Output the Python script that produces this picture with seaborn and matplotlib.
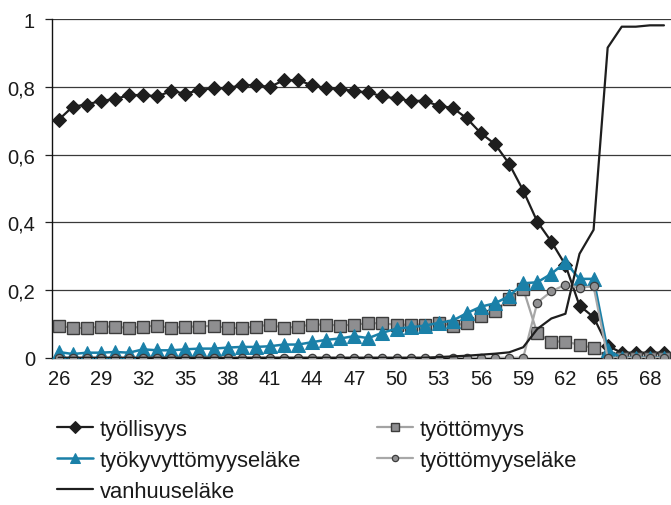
import numpy as np
import matplotlib
matplotlib.use("Agg")
import matplotlib.pyplot as plt
import seaborn as sns
import pandas as pd

ages = list(range(26, 70))

tyollisyys = [0.703, 0.742, 0.748, 0.759, 0.764, 0.776, 0.776, 0.772, 0.788, 0.780,
              0.791, 0.796, 0.797, 0.805, 0.805, 0.800, 0.820, 0.820, 0.805, 0.797,
              0.795, 0.787, 0.784, 0.772, 0.766, 0.759, 0.759, 0.744, 0.738, 0.707,
              0.663, 0.631, 0.573, 0.494, 0.402, 0.343, 0.274, 0.154, 0.120, 0.035,
              0.015, 0.015, 0.015, 0.015]
tyottomyys = [0.095, 0.088, 0.088, 0.092, 0.092, 0.088, 0.092, 0.095, 0.088, 0.092,
              0.092, 0.095, 0.088, 0.088, 0.092, 0.098, 0.088, 0.092, 0.098, 0.098,
              0.095, 0.098, 0.102, 0.102, 0.097, 0.098, 0.098, 0.102, 0.095, 0.102,
              0.122, 0.137, 0.174, 0.204, 0.072, 0.048, 0.048, 0.038, 0.029, 0.0,
              0.0, 0.0, 0.0, 0.0]
tyokyvyttomyyselake = [0.017, 0.011, 0.015, 0.015, 0.017, 0.015, 0.025, 0.022, 0.022, 0.025,
                       0.027, 0.027, 0.030, 0.032, 0.032, 0.034, 0.039, 0.039, 0.046, 0.053,
                       0.057, 0.064, 0.058, 0.074, 0.086, 0.090, 0.095, 0.103, 0.110, 0.132,
                       0.151, 0.161, 0.182, 0.220, 0.223, 0.248, 0.282, 0.233, 0.233, 0.022,
                       0.0, 0.0, 0.0, 0.0]
tyottomyyselake = [0.0] * 34 + [0.163, 0.196, 0.216, 0.207, 0.211, 0.0, 0.0, 0.0, 0.0, 0.0]
vanhuuselake = [0.0] * 27 + [0.002, 0.004, 0.006, 0.009, 0.012, 0.016, 0.031, 0.085,
                             0.116, 0.130, 0.307, 0.378, 0.916, 0.978, 0.978, 0.982, 0.982]

tick_labels = [str(a) for a in ages[::3]]

sns.set_style("white")
plt.rcParams['font.family'] = ['Liberation Sans', 'DejaVu Sans']
plt.rcParams['text.color'] = '#1a1a1a'

fig = plt.figure(figsize=(6.71, 5.06), dpi=100)
ax = fig.add_axes([0.077, 0.291, 0.923, 0.669])

pos = np.arange(len(ages))
df = pd.DataFrame({"pos": pos, "tyollisyys": tyollisyys, "tyottomyys": tyottomyys,
                   "tyokyvyttomyyselake": tyokyvyttomyyselake,
                   "tyottomyyselake": tyottomyyselake, "vanhuuselake": vanhuuselake})

blue = "#1a80a8"
sns.lineplot(data=df, x="pos", y="tyollisyys", ax=ax, color="#1e1e1e", lw=1.6,
             marker="D", markersize=7.5, markeredgecolor="#1e1e1e", label="työllisyys", zorder=3)
sns.lineplot(data=df, x="pos", y="tyottomyys", ax=ax, color="#a3a3a3", lw=1.6,
             marker="s", markersize=8.5, markerfacecolor="#8e8e90", markeredgecolor="#3c3c3c",
             markeredgewidth=1.0, label="työttömyys", zorder=4)
sns.lineplot(data=df, x="pos", y="tyokyvyttomyyselake", ax=ax, color=blue, lw=1.8,
             marker="^", markersize=9.5, markeredgecolor=blue, label="työkyvyttömyyseläke", zorder=5)
sns.lineplot(data=df, x="pos", y="tyottomyyselake", ax=ax, color="#a8a8a8", lw=1.6,
             marker="o", markersize=6, markerfacecolor="#909092", markeredgecolor="#3c3c3c",
             markeredgewidth=0.9, label="työttömyyseläke", zorder=6)
sns.lineplot(data=df, x="pos", y="vanhuuselake", ax=ax, color="#1e1e1e", lw=1.6,
             label="vanhuuseläke", zorder=7)

ax.set_xlim(-0.5, len(ages) - 0.5)
ax.set_ylim(0, 1)
ax.set_yticks([0, 0.2, 0.4, 0.6, 0.8, 1.0])
ax.set_yticklabels(["0", "0,2", "0,4", "0,6", "0,8", "1"])
ax.set_xticks(pos[::3])
ax.set_xticklabels(tick_labels)
ax.set_xticks(np.arange(-0.5, len(ages), 1.0), minor=True)
ax.tick_params(axis="x", which="major", length=0, pad=8, labelsize=14.5, colors="#1a1a1a")
ax.tick_params(axis="x", which="minor", length=5, width=0.9, color="#222222", direction="out")
ax.tick_params(axis="y", length=5, width=0.9, color="#222222", labelsize=14.5, pad=7,
               colors="#1a1a1a")
ax.tick_params(axis="both", bottom=True, left=True)
ax.set_xlabel("")
ax.set_ylabel("")

for y in [0.2, 0.4, 0.6, 0.8, 1.0]:
    ax.axhline(y, color="#3a3a3a", lw=0.9, zorder=1)

for s in ["top", "right"]:
    ax.spines[s].set_visible(False)
for s in ["left", "bottom"]:
    ax.spines[s].set_color("#111111")
    ax.spines[s].set_linewidth(1.0)

h, l = ax.get_legend_handles_labels()
ax.get_legend().remove()
leg_kw = dict(frameon=False, loc="upper left", fontsize=15.8, handlelength=1.65,
              handletextpad=0.3, labelspacing=0.45, borderpad=0, borderaxespad=0,
              markerscale=0.75, labelcolor="#1a1a1a")
fig.legend([h[0], h[2], h[4]], [l[0], l[2], l[4]],
           bbox_to_anchor=(57 / 671, 1 - 420 / 506), **leg_kw)
fig.legend([h[1], h[3]], [l[1], l[3]],
           bbox_to_anchor=(377 / 671, 1 - 420 / 506), **leg_kw)

fig.savefig("out.png", dpi=100)
